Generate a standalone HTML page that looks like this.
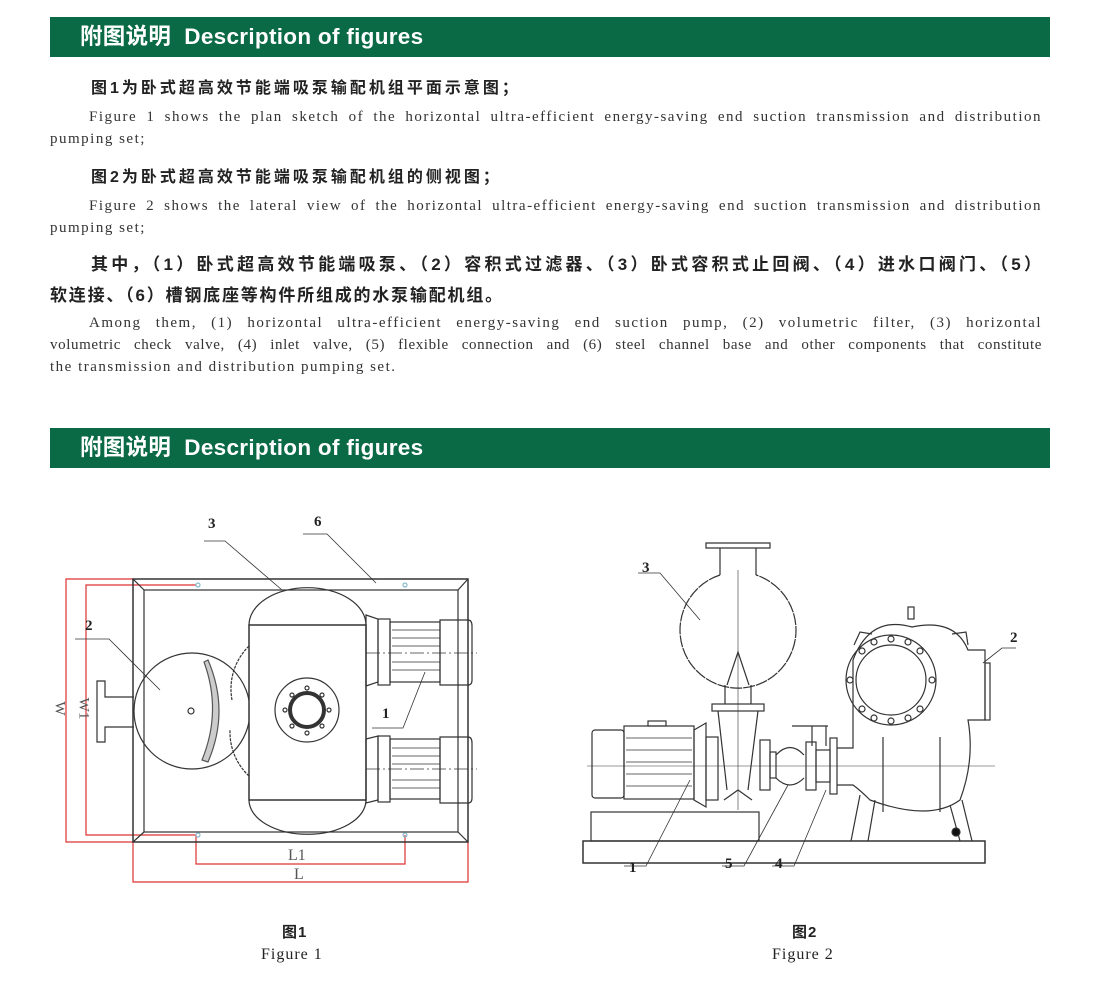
<!DOCTYPE html>
<html><head><meta charset="utf-8"><style>
body{margin:0;width:1098px;height:1002px;background:#fff;position:relative;overflow:hidden;font-family:"Liberation Serif","Noto Serif CJK SC",serif;color:#222}
.bar{position:absolute;left:50px;width:1000px;height:40px;background:#0b6a46;color:#fff;font-family:"Liberation Sans","Noto Sans CJK SC",sans-serif;font-weight:bold;font-size:22.5px;line-height:40px}
.bar span{position:absolute;left:30px;letter-spacing:0.3px}
.cn{position:absolute;left:91px;font-family:"Liberation Sans","Noto Sans CJK SC",sans-serif;font-weight:bold;font-size:16px;letter-spacing:3px;color:#222;white-space:nowrap}
.en{position:absolute;left:50px;width:992px;font-size:15px;letter-spacing:1.5px;color:#333;white-space:nowrap}
.j{text-align:justify;text-align-last:justify}
.cap{position:absolute;font-size:16px;color:#222;letter-spacing:1px}
</style></head><body>
<div class="bar" style="top:17px"><span>附图说明&nbsp;&nbsp;Description of figures</span></div>
<div class="cn" style="top:74px">图1为卧式超高效节能端吸泵输配机组平面示意图；</div>
<div class="en j" style="top:109px;left:89px;width:953px">Figure 1 shows the plan sketch of the horizontal ultra-efficient energy-saving end suction transmission and distribution</div>
<div class="en" style="top:131px">pumping set;</div>
<div class="cn" style="top:163px">图2为卧式超高效节能端吸泵输配机组的侧视图；</div>
<div class="en j" style="top:198px;left:89px;width:953px">Figure 2 shows the lateral view of the horizontal ultra-efficient energy-saving end suction transmission and distribution</div>
<div class="en" style="top:220px">pumping set;</div>
<div class="cn j" style="top:250px;font-size:17px;letter-spacing:0;width:950px">其中，（1）卧式超高效节能端吸泵、（2）容积式过滤器、（3）卧式容积式止回阀、（4）进水口阀门、（5）</div>
<div class="cn" style="top:281px;left:50px;font-size:17px;letter-spacing:1.8px">软连接、（6）槽钢底座等构件所组成的水泵输配机组。</div>
<div class="en j" style="top:315px;left:89px;width:953px">Among them, (1) horizontal ultra-efficient energy-saving end suction pump, (2) volumetric filter, (3) horizontal</div>
<div class="en j" style="top:337px;letter-spacing:0.6px">volumetric check valve, (4) inlet valve, (5) flexible connection and (6) steel channel base and other components that constitute</div>
<div class="en" style="top:359px">the transmission and distribution pumping set.</div>
<div class="bar" style="top:428px"><span>附图说明&nbsp;&nbsp;Description of figures</span></div>

<svg style="position:absolute;left:0;top:0" width="1098" height="1002" fill="none" stroke="#333" stroke-width="1.2">
<g stroke="#d33" stroke-width="1.2">
<polyline points="133,579 66,579 66,842 133,842"/>
<polyline points="196,585 86,585 86,835 196,835"/>
<polyline points="196,835 196,864 405,864 405,835"/>
<polyline points="133,842 133,882 468,882 468,842"/>
</g>
<rect x="133" y="579" width="335" height="263" stroke-width="1.5"/>
<rect x="144" y="590" width="314" height="242"/>
<line x1="133" y1="579" x2="144" y2="590"/><line x1="468" y1="579" x2="458" y2="590"/>
<line x1="133" y1="842" x2="144" y2="832"/><line x1="468" y1="842" x2="458" y2="832"/>
<g stroke="#8bc" ><circle cx="198" cy="585" r="2"/><circle cx="405" cy="585" r="2"/><circle cx="198" cy="835" r="2"/><circle cx="405" cy="835" r="2"/></g>
<path d="M249 625 A58 37 0 0 1 366 625 M249 800 A58 34 0 0 0 366 800" />
<path d="M249 646 A60 60 0 0 0 232 700 M249 776 A60 60 0 0 1 230 730" stroke-dasharray="3 1"/>
<circle cx="192" cy="711" r="58"/>
<path d="M208 660 Q230 711 208 762 L202 760 Q222 711 204 662Z" fill="#ccc" stroke="#555"/>
<circle cx="191" cy="711" r="3"/>
<path d="M134 697 H105 V681 H97 V742 H105 V727 H134"/>
<rect x="249" y="625" width="117" height="175" fill="#fff" stroke-width="1.5"/>
<circle cx="307" cy="710" r="32"/><circle cx="307" cy="710" r="17" stroke-width="4"/>
<g><circle cx="307" cy="688" r="2"/><circle cx="307" cy="733" r="2"/><circle cx="285" cy="710" r="2"/><circle cx="329" cy="710" r="2"/><circle cx="292" cy="695" r="2"/><circle cx="322" cy="695" r="2"/><circle cx="292" cy="726" r="2"/><circle cx="322" cy="726" r="2"/></g>
<g>
<path d="M366 615 L378 619 V682 L366 686Z"/><rect x="378" y="619" width="12" height="66"/>
<rect x="390" y="622" width="50" height="60"/><path d="M440 620 H468 Q472 620 472 626 V680 Q472 685 468 685 H440Z"/>
<path d="M366 739 L378 736 V800 L366 803Z"/><rect x="378" y="736" width="12" height="66"/>
<rect x="390" y="739" width="50" height="60"/><path d="M440 737 H468 Q472 737 472 743 V798 Q472 803 468 803 H440Z"/>
<g stroke-width="0.8"><line x1="392" y1="630" x2="440" y2="630"/><line x1="392" y1="638" x2="440" y2="638"/><line x1="392" y1="646" x2="440" y2="646"/><line x1="392" y1="662" x2="440" y2="662"/><line x1="392" y1="670" x2="440" y2="670"/>
<line x1="392" y1="748" x2="440" y2="748"/><line x1="392" y1="756" x2="440" y2="756"/><line x1="392" y1="764" x2="440" y2="764"/><line x1="392" y1="780" x2="440" y2="780"/><line x1="392" y1="788" x2="440" y2="788"/></g>
<line x1="366" y1="653" x2="477" y2="653" stroke-dasharray="14 3 2 3" stroke-width="0.8"/>
<line x1="366" y1="769" x2="477" y2="769" stroke-dasharray="14 3 2 3" stroke-width="0.8"/>
</g>
<g stroke-width="0.8">
<path d="M204 541 H225 L282 590"/><path d="M303 534 H327 L376 583"/><path d="M75 639 H109 L160 690"/><path d="M372 728 H403 L425 672"/>
</g>
<rect x="583" y="841" width="402" height="22" stroke-width="1.5"/>
<rect x="591" y="812" width="168" height="29"/>
<path d="M706 543 H770 V548 H706Z M720 548 V575 M756 548 V575"/>
<path d="M720 575 A58 58 0 1 0 756 575" stroke-dasharray="12 1"/>
<path d="M727 685 L738 652 L749 685 M725 685 V704 M751 685 V704"/>
<rect x="712" y="704" width="52" height="7"/>
<path d="M718 711 L727 790 M758 711 L748 790 M724 800 L738 790 L752 800"/>
<line x1="738" y1="570" x2="738" y2="810" stroke-width="0.6"/>
<rect x="592" y="730" width="32" height="68" rx="3"/>
<rect x="624" y="726" width="70" height="73"/>
<g stroke-width="0.8"><line x1="626" y1="738" x2="692" y2="738"/><line x1="626" y1="750" x2="692" y2="750"/><line x1="626" y1="762" x2="692" y2="762"/><line x1="626" y1="774" x2="692" y2="774"/><line x1="626" y1="786" x2="692" y2="786"/></g>
<rect x="648" y="721" width="18" height="5"/>
<path d="M694 730 L706 723 V807 L694 800Z"/><rect x="706" y="737" width="12" height="63"/>
<line x1="587" y1="766" x2="995" y2="766" stroke-width="0.6"/>
<rect x="760" y="740" width="10" height="50"/><rect x="770" y="752" width="6" height="26"/>
<path d="M776 755 Q790 740 804 755 M776 778 Q790 792 804 778"/>
<rect x="806" y="742" width="10" height="48"/><rect x="816" y="750" width="14" height="32"/><rect x="830" y="738" width="7" height="56"/>
<path d="M792 726 H828 M812 726 V746 M826 726 V746"/>
<path d="M837 748 H853 V660 Q870 615 912 627 Q955 618 968 650 H985 V720 H968 Q975 760 960 800 Q930 822 870 800 Q860 790 853 785 H837"/>
<rect x="985" y="663" width="5" height="57"/>
<circle cx="891" cy="680" r="45"/><circle cx="891" cy="680" r="35"/>
<g><circle cx="891" cy="639" r="3"/><circle cx="891" cy="721" r="3"/><circle cx="850" cy="680" r="3"/><circle cx="932" cy="680" r="3"/><circle cx="862" cy="651" r="3"/><circle cx="920" cy="651" r="3"/><circle cx="862" cy="709" r="3"/><circle cx="920" cy="709" r="3"/><circle cx="874" cy="642" r="3"/><circle cx="908" cy="642" r="3"/><circle cx="874" cy="718" r="3"/><circle cx="908" cy="718" r="3"/></g>
<path d="M854 645 L860 632 L872 634 M952 634 L966 632 L968 645"/>
<rect x="908" y="607" width="6" height="12"/>
<path d="M883 737 V812 M940 737 V812 M860 795 L851 841 M875 800 L868 841 M962 800 L972 841 M950 805 L960 841"/>
<circle cx="956" cy="832" r="4" fill="#111"/>
<g stroke-width="0.8"><path d="M638 573 H660 L700 620"/><path d="M624 866 H646 L690 780"/><path d="M722 866 H744 L788 785"/><path d="M772 866 H794 L826 790"/><path d="M1016 648 H1002 L983 663"/></g>
</svg>
<div style="position:absolute;font-family:'Liberation Serif',serif;font-weight:bold;font-size:15px;color:#222">
<span style="position:absolute;left:208px;top:516px">3</span><span style="position:absolute;left:314px;top:514px">6</span><span style="position:absolute;left:85px;top:618px">2</span><span style="position:absolute;left:382px;top:706px">1</span>
<span style="position:absolute;left:642px;top:560px">3</span><span style="position:absolute;left:629px;top:860px">1</span><span style="position:absolute;left:725px;top:856px">5</span><span style="position:absolute;left:775px;top:856px">4</span><span style="position:absolute;left:1010px;top:630px">2</span>
</div>
<div style="position:absolute;left:288px;top:847px;font-size:16px;color:#555">L1</div>
<div style="position:absolute;left:294px;top:866px;font-size:16px;color:#555">L</div>
<div style="position:absolute;left:52px;top:700px;font-size:15px;color:#555;transform:rotate(90deg)">W</div>
<div style="position:absolute;left:72px;top:700px;font-size:15px;color:#555;transform:rotate(90deg)">W1</div>
<div class="cap" style="left:282px;top:921px;font-family:'Liberation Sans','Noto Sans CJK SC',sans-serif;font-weight:bold;font-size:15px">图1</div>
<div class="cap" style="left:261px;top:946px">Figure 1</div>
<div class="cap" style="left:792px;top:921px;font-family:'Liberation Sans','Noto Sans CJK SC',sans-serif;font-weight:bold;font-size:15px">图2</div>
<div class="cap" style="left:772px;top:946px">Figure 2</div>
</body></html>
